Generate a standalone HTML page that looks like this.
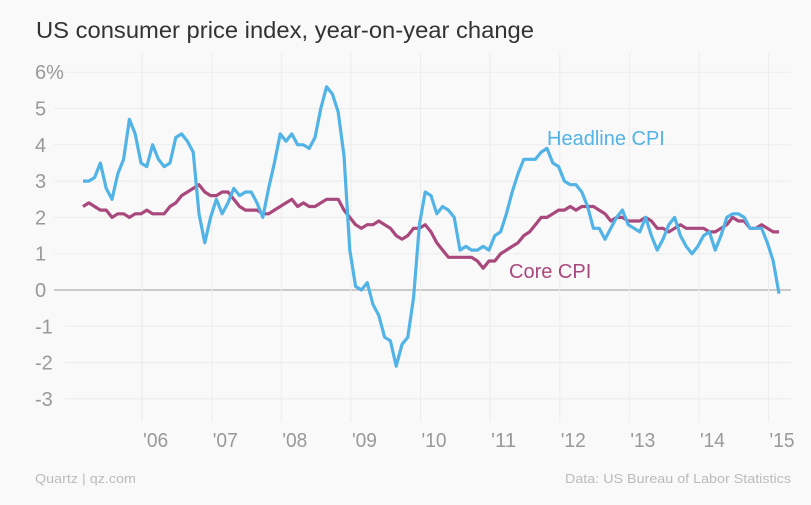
<!DOCTYPE html>
<html><head><meta charset="utf-8">
<style>
html,body{margin:0;padding:0;background:#f9f9f9;}
body{width:811px;height:505px;overflow:hidden;font-family:"Liberation Sans",sans-serif;}
</style></head>
<body>
<svg id="chart" width="811" height="505" xmlns="http://www.w3.org/2000/svg" style="display:block">
<rect width="811" height="505" fill="#f9f9f9"/>
<text x="36" y="38" font-size="23" fill="#333" textLength="498" lengthAdjust="spacingAndGlyphs" font-family="Liberation Sans, sans-serif">US consumer price index, year-on-year change</text>
<g id="grid"></g>
<g id="axes"></g>
<g id="series"></g>
<text x="547" y="145" font-size="20" fill="#51b3e6">Headline CPI</text>
<text x="509" y="278" font-size="20" fill="#a9487c">Core CPI</text>
<text x="35" y="483" font-size="13" fill="#bbb" textLength="101" lengthAdjust="spacingAndGlyphs">Quartz | qz.com</text>
<text x="565" y="483" font-size="13" fill="#bbb" textLength="226" lengthAdjust="spacingAndGlyphs">Data: US Bureau of Labor Statistics</text>
</svg>
<script>
// Monthly data Jan 2005 .. Jan 2015
const headline = [
3.0,3.0,3.1,3.5,2.8,2.5,3.2,3.6,4.7,4.3,3.5,3.4,
4.0,3.6,3.4,3.5,4.2,4.3,4.1,3.8,2.1,1.3,2.0,2.5,
2.1,2.4,2.8,2.6,2.7,2.7,2.4,2.0,2.8,3.5,4.3,4.1,
4.3,4.0,4.0,3.9,4.2,5.0,5.6,5.4,4.9,3.7,1.1,0.1,
0.0,0.2,-0.4,-0.7,-1.3,-1.4,-2.1,-1.5,-1.3,-0.2,1.8,2.7,
2.6,2.1,2.3,2.2,2.0,1.1,1.2,1.1,1.1,1.2,1.1,1.5,
1.6,2.1,2.7,3.2,3.6,3.6,3.6,3.8,3.9,3.5,3.4,3.0,
2.9,2.9,2.7,2.3,1.7,1.7,1.4,1.7,2.0,2.2,1.8,1.7,
1.6,2.0,1.5,1.1,1.4,1.8,2.0,1.5,1.2,1.0,1.2,1.5,
1.6,1.1,1.5,2.0,2.1,2.1,2.0,1.7,1.7,1.7,1.3,0.8,
-0.1];
const core = [
2.3,2.4,2.3,2.2,2.2,2.0,2.1,2.1,2.0,2.1,2.1,2.2,
2.1,2.1,2.1,2.3,2.4,2.6,2.7,2.8,2.9,2.7,2.6,2.6,
2.7,2.7,2.5,2.3,2.2,2.2,2.2,2.1,2.1,2.2,2.3,2.4,
2.5,2.3,2.4,2.3,2.3,2.4,2.5,2.5,2.5,2.2,2.0,1.8,
1.7,1.8,1.8,1.9,1.8,1.7,1.5,1.4,1.5,1.7,1.7,1.8,
1.6,1.3,1.1,0.9,0.9,0.9,0.9,0.9,0.8,0.6,0.8,0.8,
1.0,1.1,1.2,1.3,1.5,1.6,1.8,2.0,2.0,2.1,2.2,2.2,
2.3,2.2,2.3,2.3,2.3,2.2,2.1,1.9,2.0,2.0,1.9,1.9,
1.9,2.0,1.9,1.7,1.7,1.6,1.7,1.8,1.7,1.7,1.7,1.7,
1.6,1.6,1.7,1.8,2.0,1.9,1.9,1.7,1.7,1.8,1.7,1.6,
1.6];
const yTicks = [6,5,4,3,2,1,0,-1,-2,-3];
const yTickLabels = ["6%","5","4","3","2","1","0","-1","-2","-3"];
const xTickLabels = ["'06","'07","'08","'09","'10","'11","'12","'13","'14","'15"];

const NS = "http://www.w3.org/2000/svg";
function xScale(i){ return 83 + i * 5.8; }
function yScale(v){ return 290 - v * 36.3; }
function gridX(k){ return xScale(10.2 + 12 * k); }

const grid = document.getElementById('grid');
const axes = document.getElementById('axes');
yTicks.forEach((t, k) => {
  const lab = yTickLabels[k];
  const tx = document.createElementNS(NS, 'text');
  
  
  tx.setAttribute('x', 35);
  tx.setAttribute('y', yScale(t) + 7);
  tx.setAttribute('font-size', '20');
  tx.setAttribute('fill', '#999');
  tx.textContent = lab;
  axes.appendChild(tx);
  const ln = document.createElementNS(NS, 'line');
  
  
  const startX = 35 + lab.length * 11 + 8;
  ln.setAttribute('x1', startX);
  ln.setAttribute('x2', 791);
  ln.setAttribute('y1', yScale(t));
  ln.setAttribute('y2', yScale(t));
  ln.setAttribute('stroke', t === 0 ? '#bbb' : '#ececec');
  ln.setAttribute('stroke-width', t === 0 ? 1.5 : 1);
  grid.appendChild(ln);
});
xTickLabels.forEach((lab, k) => {
  const gx = gridX(k);
  const ln = document.createElementNS(NS, 'line');
  
  
  ln.setAttribute('x1', gx); ln.setAttribute('x2', gx);
  ln.setAttribute('y1', 53); ln.setAttribute('y2', 422);
  ln.setAttribute('stroke', '#ececec');
  grid.appendChild(ln);
  const tx = document.createElementNS(NS, 'text');
  
  
  tx.setAttribute('x', gx + 1);
  tx.setAttribute('y', 447);
  tx.setAttribute('font-size', '20');
  tx.setAttribute('fill', '#999');
  tx.setAttribute('textLength', '25');
  tx.setAttribute('lengthAdjust', 'spacingAndGlyphs');
  tx.textContent = lab;
  axes.appendChild(tx);
});

const series = document.getElementById('series');
function drawLine(data, color, name){
  const p = document.createElementNS(NS, 'path');
  
  
  p.setAttribute('d', data.map((v, i) => (i ? 'L' : 'M') + xScale(i).toFixed(1) + ',' + yScale(v).toFixed(1)).join(''));
  p.setAttribute('fill', 'none');
  p.setAttribute('stroke', color);
  p.setAttribute('stroke-width', '3.2');
  p.setAttribute('stroke-linejoin', 'round');
  series.appendChild(p);
}
drawLine(core, '#a9487c', 'core-cpi-line');
drawLine(headline, '#51b3e6', 'headline-cpi-line');
</script>
</body></html>
